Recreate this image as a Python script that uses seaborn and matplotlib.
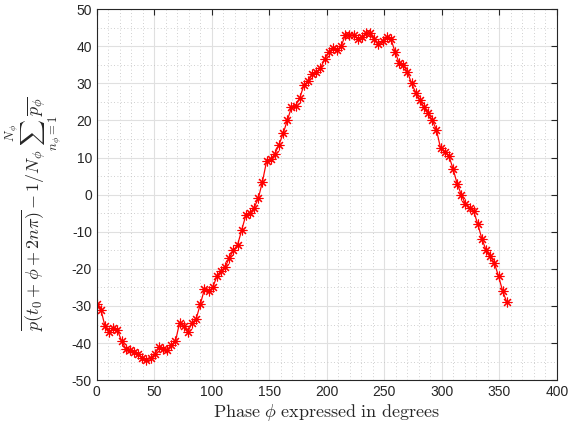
import numpy as np
import pandas as pd
import matplotlib
matplotlib.use("Agg")
import matplotlib.pyplot as plt
import seaborn as sns
from matplotlib.ticker import MultipleLocator

phase_deg = [i * 3.6 for i in range(100)]
pressure_dev = [
    -29.5, -31, -35.5, -37, -36, -36.5, -39.5, -41.5, -42, -42.5,
    -43, -44, -44.5, -44, -43, -41, -41.5, -42, -40.5, -39.5,
    -34.5, -35.5, -37, -34.5, -33.5, -29.5, -25.5, -26, -25, -22,
    -20.5, -19.5, -17, -15, -13.5, -9.5, -5.5, -5, -3.5, -1,
    3.5, 9, 9.5, 11, 13.5, 16.5, 20, 23.5, 24, 26,
    29.5, 30.5, 32.5, 33, 34, 36.5, 38.5, 39.5, 39, 40,
    43, 43, 43, 42, 42.5, 43.5, 43.5, 42, 40.5, 41.5,
    42.5, 42, 38.5, 35.5, 35, 33, 30, 27.5, 25.5, 23.5,
    22, 20, 17.5, 12.5, 11.5, 10.5, 7, 3, 0, -2.5,
    -3.5, -4.5, -8, -12, -15, -16.5, -18.5, -22, -26, -29,
]
xticks = [0, 50, 100, 150, 200, 250, 300, 350, 400]
yticks = [-50, -40, -30, -20, -10, 0, 10, 20, 30, 40, 50]

df = pd.DataFrame({"phase": phase_deg, "dev": pressure_dev})

sns.set_style("white")
plt.rcParams["mathtext.fontset"] = "cm"
plt.rcParams["font.family"] = ["Liberation Sans", "DejaVu Sans"]

fig = plt.figure(figsize=(5.76, 4.33), dpi=100)
ax = fig.add_axes([0.168, 0.122, 0.799, 0.857])

sns.lineplot(data=df, x="phase", y="dev", ax=ax, color="red", linewidth=0.9,
             marker=(8, 2, 0), markersize=7, markeredgecolor="red",
             markeredgewidth=0.8, estimator=None)

ax.set_xlim(0, 400)
ax.set_ylim(-50, 50)
ax.set_xticks(xticks)
ax.set_yticks(yticks)
ax.set_xticklabels([str(t) for t in xticks])
ax.set_yticklabels([str(t) for t in yticks])
ax.xaxis.set_minor_locator(MultipleLocator(10))
ax.yaxis.set_minor_locator(MultipleLocator(5))
ax.grid(True, which="major", color="#e0e0e0", linewidth=0.8, linestyle="-")
ax.grid(True, which="minor", color="#c0c0c0", linewidth=0.6, linestyle=(0, (1, 3)))
ax.set_axisbelow(True)
ax.tick_params(which="major", direction="in", length=4, width=0.8, top=True, right=True,
               labelsize=10, colors="#262626")
ax.tick_params(which="minor", length=0, top=True, right=True)
for s in ax.spines.values():
    s.set_visible(True)
    s.set_color("#262626")
    s.set_linewidth(0.8)

ax.set_xlabel(r"$\mathrm{Phase}\ \phi\ \mathrm{expressed\ in\ degrees}$", fontsize=13, labelpad=2)
ax.set_ylabel(r"$\overline{p(t_0+\phi+2n\pi)}-1/N_\phi\sum_{n_\phi=1}^{N_\phi}\overline{p_\phi}$",
              fontsize=13)
ax.yaxis.set_label_coords(-0.07, 0.45)

fig.savefig("out.png", dpi=100)
